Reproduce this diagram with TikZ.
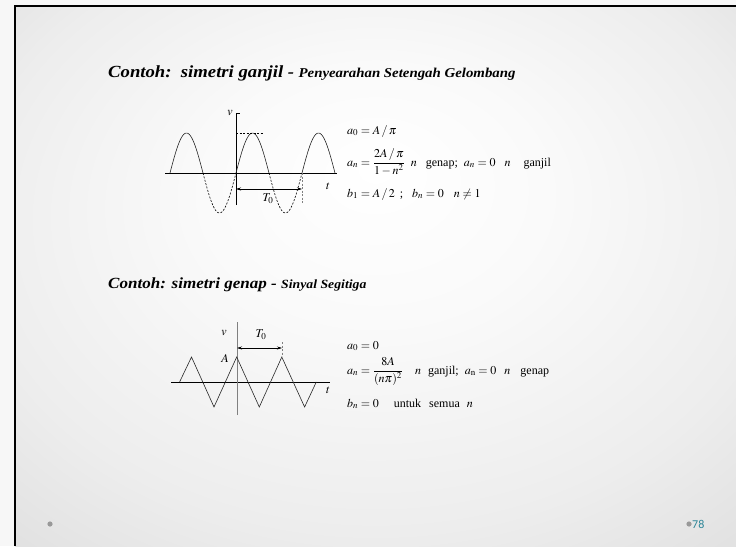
\documentclass[tikz,border=0pt]{standalone}
\usepackage{amsmath}
\usepackage{mathptmx}
\usepackage[no-math]{fontspec}
\setmainfont{Liberation Serif}
\newfontfamily\titlefont[FakeStretch=1.1]{Liberation Serif}
\newfontfamily\footfont{Carlito}
\usetikzlibrary{arrows.meta,positioning}
\definecolor{pagenum}{HTML}{2F8799}
\pgfdeclareradialshading{slidebg}{\pgfpoint{0bp}{10bp}}{%
  color(0bp)=(white); color(12bp)=(white!98!black); color(28bp)=(white!93!black);
  color(40bp)=(white!87!black); color(50bp)=(white!84!black)}

\begin{document}
\begin{tikzpicture}[x=1pt, y=-1pt, >={Stealth[length=5pt,width=3pt]},
  axis/.style={line width=0.8pt},
  wave/.style={line width=0.6pt, black!85},
  ghost/.style={line width=0.6pt, dash pattern=on 2pt off 1.5pt},
  title/.style={anchor=base west, inner sep=0pt, font=\titlefont\fontsize{17}{19}\selectfont\bfseries\itshape},
  subtitle/.style={anchor=base west, inner sep=0pt, font=\titlefont\fontsize{13.5}{15}\selectfont\bfseries\itshape},
  eqn/.style={anchor=base west, inner sep=0pt, font=\fontsize{12}{14}\selectfont},
  lbl/.style={inner sep=0pt, font=\fontsize{12}{14}\selectfont}]
  \useasboundingbox (0,0) rectangle (736,546);

  % slide background
  \fill[gray!6] (0,0) rectangle (736,546);
  \shade[shading=slidebg] (15,6) rectangle (736,546);
  \draw[line width=2pt] (15,546) -- (15,6) -- (736,6);

  % titles
  \node[title] (title1) at (108,77) {Contoh:\ \ simetri ganjil -};
  \node[subtitle, right=4pt of title1.base east, anchor=base west] (sub1) {Penyearahan Setengah Gelombang};
  \node[title, font=\titlefont\fontsize{15.5}{17}\selectfont\bfseries\itshape] (title2) at (108,288) {Contoh: simetri genap -};
  \node[subtitle, font=\titlefont\fontsize{12.5}{14}\selectfont\bfseries\itshape,
        right=4pt of title2.base east, anchor=base west] (sub2) {Sinyal Segitiga};

  % half-wave rectified sine
  \coordinate (o1) at (236,173);
  \coordinate (ax1l) at (165,173);
  \coordinate (ax1r) at (337,173);
  \coordinate (ax1b) at (236,205);
  \coordinate (ax1t) at (236,113);
  \draw[axis] (ax1l) -- (ax1r);
  \draw[axis] (ax1b) -- (ax1t) -- ++(4,0);
  \node[lbl, anchor=east] (v1) at (233,113) {$v$};
  \node[lbl] (t1) at (328,186) {$t$};
  \draw[wave] plot[domain=-66:-33, samples=30] ({236+\x},{173-40*sin(\x/33*180)});
  \draw[wave] plot[domain=0:33, samples=30] ({236+\x},{173-40*sin(\x/33*180)});
  \draw[wave] plot[domain=66:99, samples=30] ({236+\x},{173-40*sin(\x/33*180)});
  \draw[ghost] plot[domain=-33:0, samples=30] ({236+\x},{173-40*sin(\x/33*180)});
  \draw[ghost] plot[domain=33:66, samples=30] ({236+\x},{173-40*sin(\x/33*180)});
  \coordinate (pk1) at (236,133);
  \draw[ghost] (pk1) -- ++(27,0);
  \coordinate (T1a) at (236,189);
  \coordinate (T1b) at (302,189);
  \draw[ghost, gray] (302,173) -- (302,203);
  \draw[<->, line width=0.6pt] (T1a) -- (T1b);
  \node[lbl] (T1) at (268,199) {$T_0$};

  \node[eqn] (a01) at (347,134) {$a_0 = A\,/\,\pi$};
  \node[eqn] (an1) at (347,166) {$a_n = \dfrac{2A\,/\,\pi}{1-n^2}$\hspace{6pt}$n$\hspace{9pt}genap;\hspace{6pt}$a_n = 0$\hspace{9pt}$n$\hspace{13pt}ganjil};
  \node[eqn] (bn1) at (347,197) {$b_1 = A\,/\,2$\hspace{5pt};\hspace{9pt}$b_n = 0$\hspace{10pt}$n \neq 1$};

  % triangle wave
  \coordinate (ax2l) at (171,382);
  \coordinate (ax2r) at (330,382);
  \coordinate (ax2b) at (237,415);
  \coordinate (ax2t) at (237,322);
  \draw[axis] (ax2l) -- (ax2r);
  \draw[line width=0.6pt, gray] (ax2b) -- (ax2t);
  \draw[wave] (179.6,382) -- (191.5,357) -- (214,407) -- (236.7,357) -- (259.3,407)
    -- (281.8,357) -- (304.6,407) -- (316.3,382);
  \node[lbl] (v2) at (224,333) {$v$};
  \node[lbl] (A2) at (225,358) {$A$};
  \node[lbl] (t2) at (328,390) {$t$};
  \node[lbl] (T2) at (261,335) {$T_0$};
  \coordinate (T2a) at (237,348);
  \coordinate (T2b) at (282,348);
  \draw[<->, line width=0.6pt] (T2a) -- (T2b);
  \draw[ghost, gray] (282,342) -- (282,356);

  \node[eqn] (a02) at (347,349) {$a_0 = 0$};
  \node[eqn] (an2) at (347,374) {$a_n = \dfrac{8A}{(n\pi)^2}$\hspace{12pt}$n$\hspace{7pt}ganjil;\hspace{6pt}$a_{\mathrm{n}} = 0$\hspace{8pt}$n$\hspace{10pt}genap};
  \node[eqn] (bn2) at (347,407) {$b_n = 0$\hspace{15pt}untuk\hspace{8pt}semua\hspace{7pt}$n$};

  % footer
  \fill[gray!80] (50,524) circle (2.6);
  \fill[gray!80] (689,524) circle (2.6);
  \node[anchor=west, inner sep=0pt, text=pagenum, font=\footfont\fontsize{12}{14}\selectfont] (page) at (692,524) {78};
\end{tikzpicture}
\end{document}
